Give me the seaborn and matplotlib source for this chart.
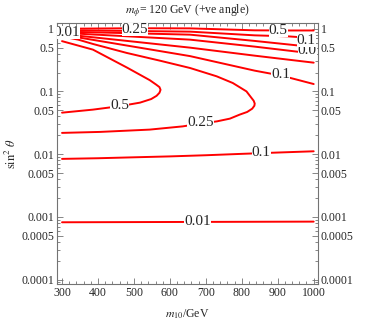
import matplotlib
matplotlib.use('Agg')
import matplotlib.pyplot as plt
import matplotlib.ticker as mticker
import seaborn as sns

# contour lines (m10 in GeV, sin^2 theta)
bottom_m10 = [300, 650, 1000]
bottom_s2 = [8.2e-4, 8.3e-4, 8.4e-4]

low_m10 = [300, 400, 500, 600, 700, 800, 900, 1000]
low_s2 = [0.0084, 0.0086, 0.0089, 0.0092, 0.0096, 0.0101, 0.0106, 0.0111]

c25_m10 = [300, 406, 544, 636, 683, 731, 767, 794, 815, 829, 835, 836, 833, 826,
           813, 775, 730, 656, 572, 480, 386, 345, 300]
c25_s2 = [0.0218, 0.0226, 0.0246, 0.0277, 0.0306, 0.0333, 0.0368, 0.0426, 0.047,
          0.053, 0.059, 0.064, 0.071, 0.080, 0.100, 0.136, 0.174, 0.236, 0.309,
          0.410, 0.570, 0.668, 0.75]

c50_m10 = [300, 386, 461, 517, 548, 563, 571, 574, 571, 562, 544, 481, 386, 300]
c50_s2 = [0.0458, 0.0512, 0.0582, 0.0662, 0.0755, 0.085, 0.095, 0.106, 0.117,
          0.128, 0.151, 0.239, 0.463, 0.632]

fanA_m10 = [300, 344, 503, 656, 836, 928, 1000]
fanA_s2 = [0.99, 1.0, 1.015, 1.01, 0.94, 0.935, 0.935]
fanB_m10 = [300, 344, 656, 836, 928, 1000]
fanB_s2 = [0.95, 0.939, 0.896, 0.782, 0.754, 0.706]
fanC_m10 = [300, 344, 656, 836, 953, 1000]
fanC_s2 = [0.91, 0.886, 0.802, 0.637, 0.542, 0.498]
fanD_m10 = [300, 344, 656, 836, 1000]
fanD_s2 = [0.87, 0.832, 0.668, 0.517, 0.400]
fanE_m10 = [300, 344, 656, 836, 1000]
fanE_s2 = [0.83, 0.773, 0.498, 0.371, 0.287]
fanF_m10 = [300, 344, 656, 836, 911, 1000]
fanF_s2 = [0.79, 0.727, 0.365, 0.214, 0.178, 0.131]

# contour labels, drawn in this order (later ones on top)
label_text = ['0.01', '0.1', '0.25', '0.5', '0.01', '0.25', '0.5', '0.0', '0.1', '0.1']
label_m10 = [676, 854, 685, 461, 314, 503, 901, 982, 979, 908]
label_s2 = [8.3e-4, 0.01045, 0.0314, 0.06, 0.88, 0.96, 0.93, 0.45, 0.651, 0.185]

x_ticks = [300, 400, 500, 600, 700, 800, 900, 1000]
y_ticks = [0.0001, 0.0005, 0.001, 0.005, 0.01, 0.05, 0.1, 0.5, 1]
y_ticklabels = ['0.0001', '0.0005', '0.001', '0.005', '0.01', '0.05', '0.1', '0.5', '1']

sns.set_style('ticks')
plt.rcParams['font.family'] = ['Liberation Serif', 'DejaVu Serif']
plt.rcParams['mathtext.fontset'] = 'stix'

fig = plt.figure(figsize=(3.74, 3.24), dpi=100)
ax = fig.add_axes([57 / 374, 1 - 284 / 324, 261 / 374, 261 / 324])

contours = [(bottom_m10, bottom_s2), (low_m10, low_s2), (c25_m10, c25_s2),
            (c50_m10, c50_s2), (fanA_m10, fanA_s2), (fanB_m10, fanB_s2),
            (fanC_m10, fanC_s2), (fanD_m10, fanD_s2), (fanE_m10, fanE_s2),
            (fanF_m10, fanF_s2)]
for xs, ys in contours:
    sns.lineplot(x=xs, y=ys, sort=False, estimator=None, color='red',
                 lw=1.4, ax=ax, legend=False)

ax.set_yscale('log')
ax.set_xlim(286, 1012)
ax.set_ylim(10 ** -4.07, 10 ** 0.09)

for i, (t, xv, yv) in enumerate(zip(label_text, label_m10, label_s2)):
    ax.text(xv, yv, t, fontsize=11, ha='center', va='center', zorder=5 + i,
            clip_on=True,
            bbox=dict(boxstyle='square,pad=0', fc='white', ec='none'))

ax.xaxis.set_major_locator(mticker.FixedLocator(x_ticks))
ax.xaxis.set_minor_locator(mticker.MultipleLocator(20))
ax.yaxis.set_major_locator(mticker.FixedLocator(y_ticks))
ax.yaxis.set_major_formatter(mticker.FixedFormatter(y_ticklabels))
ax.yaxis.set_minor_locator(mticker.LogLocator(base=10, subs=range(2, 10), numticks=20))
ax.yaxis.set_minor_formatter(mticker.NullFormatter())

ax.tick_params(which='both', direction='in', top=True, right=True,
               labelright=True, color='0.45', labelsize=8.5, width=0.6)
ax.tick_params(which='major', length=4.5, pad=2)
ax.tick_params(which='minor', length=2.5)
for sp in ax.spines.values():
    sp.set_color('0.45')
    sp.set_linewidth(0.8)

ax.set_title(r'$m_\phi$= 120 GeV (+ve angle)', fontsize=8.5, pad=7)
ax.set_xlabel(r'$m_{10}$/GeV', fontsize=8.5, labelpad=6)
ax.set_ylabel(r'$\sin^2\,\theta$', fontsize=9, labelpad=2)

fig.savefig('out.png', dpi=100)
